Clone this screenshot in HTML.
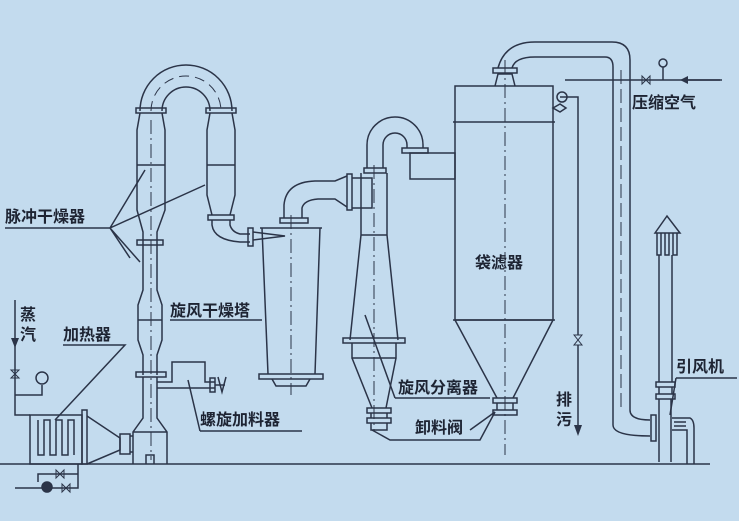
<!DOCTYPE html>
<html><head><meta charset="utf-8"><style>
html,body{margin:0;padding:0;background:#c3dbee;}
svg{display:block}
text{font-family:"Liberation Sans","Noto Sans CJK SC","WenQuanYi Zen Hei",sans-serif;fill:#1e2433;font-size:16px;font-weight:bold;}
</style></head><body>
<svg width="739" height="521" viewBox="0 0 739 521" xmlns="http://www.w3.org/2000/svg">
<rect width="739" height="521" fill="#c3dbee"/>
<g fill="none" stroke="#2b3448" stroke-width="1.5">
<line x1="0" y1="464" x2="710" y2="464"/>
<path d="M140 111 A46 46 0 0 1 232 111"/>
<path d="M162 111 A24 24 0 0 1 210 111"/>
<path d="M151 111 A35 35 0 0 1 221 111" stroke-dasharray="10 6" stroke-width="1"/>
<rect x="136" y="108" width="30" height="5"/>
<rect x="206" y="108" width="30" height="5"/>
<path d="M140 113 L137 130 L137 210 L143 232 L143 290 L138 305 L138 340 L143 355 L143 375"/>
<path d="M162 113 L165 130 L165 210 L157 232 L157 290 L162 305 L162 340 L157 355 L157 375"/>
<line x1="137" y1="165" x2="165" y2="165"/><line x1="138" y1="320" x2="162" y2="320"/>
<rect x="137" y="240" width="26" height="5"/>
<rect x="136" y="372" width="30" height="5"/>
<line x1="151" y1="120" x2="151" y2="460" stroke-dasharray="14 4 2 4" stroke-width="1"/>
<path d="M143 377 L143 418 L133 432 L133 464 M157 377 L157 418 L167 432 L167 464 M133 432 L167 432"/>
<path d="M146 464 L146 455 L154 455 L154 464"/>
<path d="M210 113 L207 130 L207 195 L212 215 M232 113 L235 130 L235 195 L230 215"/>
<line x1="207" y1="165" x2="235" y2="165"/>
<rect x="208" y="215" width="26" height="5"/>
<path d="M212 220 L212 225 Q214 240 240 242 L250 242 M230 220 L230 225 Q232 232 240 234 L250 234"/>
<rect x="248" y="228" width="5" height="18"/>
<path d="M253 232 L285 236 L253 240"/>
<path d="M260 228 L322 228 M262 228 L268 374 M320 228 L315 374"/>
<rect x="259" y="374" width="64" height="5"/>
<path d="M272 379 L276 386 L306 386 L310 379"/>
<line x1="291" y1="215" x2="291" y2="395" stroke-dasharray="14 4 2 4" stroke-width="1"/>
<rect x="280" y="218" width="28" height="5"/>
<path d="M284 218 L284 205 Q286 182 315 181 L335 181 L347 176 M302 218 L302 208 Q304 200 318 199 L335 199 L347 207"/>
<rect x="347" y="174" width="5" height="36"/>
<path d="M352 178 L372 178 L372 208 L352 208"/>
<path d="M361 173 L361 235 L350 340 M387 173 L387 235 L398 340 M361 235 L387 235"/>
<rect x="343" y="338" width="62" height="5"/>
<path d="M352 343 L352 358 L396 358 L396 343 M352 358 L372 408 M396 358 L386 408"/>
<rect x="367" y="408" width="24" height="5"/><rect x="367" y="418" width="24" height="5"/>
<path d="M371 413 L371 418 M387 413 L387 418 M371 423 L371 430 L387 430 L387 423"/>
<line x1="374" y1="165" x2="374" y2="430" stroke-dasharray="14 4 2 4" stroke-width="1"/>
<rect x="364" y="168" width="22" height="5"/>
<path d="M367 168 L367 145 A28 28 0 0 1 423 145 L423 148 M383 168 L383 145 A12 12 0 0 1 407 145 L407 148"/>
<rect x="402" y="148" width="26" height="5"/>
<rect x="410" y="153" width="45" height="26"/>
<path d="M372 430 L390 440 L480 440 L495 412"/>
<rect x="455" y="86" width="98" height="234"/>
<line x1="453" y1="122" x2="555" y2="122"/>
<line x1="453" y1="320" x2="555" y2="320"/>
<path d="M455 320 L497 398 M553 320 L513 398"/>
<rect x="493" y="398" width="24" height="5"/><rect x="493" y="410" width="24" height="5"/>
<path d="M497 403 L497 410 M513 403 L513 410"/>
<path d="M495 86 L498 74 L512 74 L515 86"/>
<rect x="493" y="68" width="24" height="5"/>
<line x1="505" y1="60" x2="505" y2="455" stroke-dasharray="14 4 2 4" stroke-width="1"/>
<circle cx="562" cy="97" r="5"/>
<path d="M553 108 L560 104 L566 108 L560 112 Z"/>
<path d="M498 68 Q505 42 535 42 L612 42 Q630 42 630 60 L630 410 Q630 420 650 420"/>
<path d="M512 68 Q515 57 535 57 L605 57 Q613 57 613 67 L613 425 Q613 436 650 436"/>
<line x1="621" y1="70" x2="621" y2="410" stroke-dasharray="14 5" stroke-width="1"/>
<rect x="651" y="415" width="5" height="26"/>
<path d="M655 233 L667 216 L680 233 Z"/>
<path d="M657 233 L657 255 L661 255 L661 233 M665 233 L665 255 L669 255 L669 233 M673 233 L673 255 L677 255 L677 233"/>
<path d="M659 255 L659 382 M672 255 L672 382"/>
<rect x="656" y="382" width="19" height="5"/><rect x="656" y="394" width="19" height="5"/>
<path d="M659 387 L659 394 M672 387 L672 394 M659 399 L659 462 M671 399 L671 462"/>
<path d="M672 418 L690 418 Q694 420 694 428 L694 464 M672 430 L687 430 L687 464"/>
<path d="M674 422 L686 422 M674 426 L686 426"/>
<line x1="565" y1="80" x2="720" y2="80"/>
<path d="M642 76 L650 84 L650 76 L642 84 Z" stroke-width="1"/>
<line x1="663" y1="67" x2="663" y2="80"/><circle cx="663" cy="63" r="4"/>
<path d="M560 97 L578 97 L578 335 M578 345 L578 430"/>
<path d="M574 335 L582 345 L574 345 L582 335 Z" stroke-width="1"/>
<rect x="30" y="415" width="52" height="49"/>
<rect x="82" y="410" width="5" height="54"/>
<path d="M87 416 L120 438 L120 450 L87 464"/>
<rect x="120" y="434" width="10" height="20"/>
<path d="M130 436 L133 436 M130 452 L133 452"/>
<path d="M38 420 L38 455 L44 455 L44 420 L50 420 L50 455 L56 455 L56 420 L62 420 L62 455 L68 455 L68 420 L74 420 L74 455"/>
<path d="M15 300 L15 415 L30 415 M15 395 L42 395 L42 385"/>
<circle cx="42" cy="378" r="6"/>
<path d="M11 370 L19 378 L11 378 L19 370 Z" stroke-width="1"/>
<path d="M15 488 L42 488 M38 482 L38 474 L78 474 L78 464 M50 488 L78 488 L78 474"/>
<circle cx="47" cy="487" r="5" fill="#2b3448"/>
<path d="M56 470 L64 478 L64 470 L56 478 Z M62 484 L70 492 L70 484 L62 492 Z" stroke-width="1"/>
<path d="M157 388 L215 388 M157 382 L172 382 L172 362 L205 362 L205 382 L215 382"/>
<rect x="210" y="378" width="5" height="14"/>
<path d="M215 385 L225 385 M218 377 L222 392 L226 377"/>
<path d="M5 228 L110 228 L145 170 M110 228 L205 185 M110 228 L140 262 M110 228 L130 258"/>
<path d="M63 345 L125 345 L55 420"/>
<path d="M170 320 L262 320"/>
<path d="M200 431 L302 431 M200 431 L188 380"/>
<path d="M395 398 L490 398 M395 398 L365 315"/>
<path d="M470 430 L495 412"/>
<path d="M676 378 L737 378 M676 378 L670 415"/>
</g>
<g fill="#2b3448">
<path d="M11 338 L19 338 L15 348 Z"/>
<path d="M574 425 L582 425 L578 436 Z"/>
<path d="M688 76 L688 84 L680 80 Z"/>
</g>
<line x1="688" y1="80" x2="722" y2="80" stroke="#2b3448" stroke-width="1.5"/>
<text x="5" y="222" font-size="17">脉冲干燥器</text>
<text x="20" y="320" font-size="16">蒸</text>
<text x="20" y="340" font-size="16">汽</text>
<text x="63" y="340" font-size="17">加热器</text>
<text x="170" y="316" font-size="17">旋风干燥塔</text>
<text x="200" y="425" font-size="17">螺旋加料器</text>
<text x="398" y="393" font-size="17">旋风分离器</text>
<text x="415" y="433" font-size="17">卸料阀</text>
<text x="475" y="268" font-size="17">袋滤器</text>
<text x="556" y="405" font-size="17">排</text>
<text x="556" y="425" font-size="17">污</text>
<text x="632" y="108" font-size="17">压缩空气</text>
<text x="676" y="372" font-size="17">引风机</text>
</svg>
</body></html>
